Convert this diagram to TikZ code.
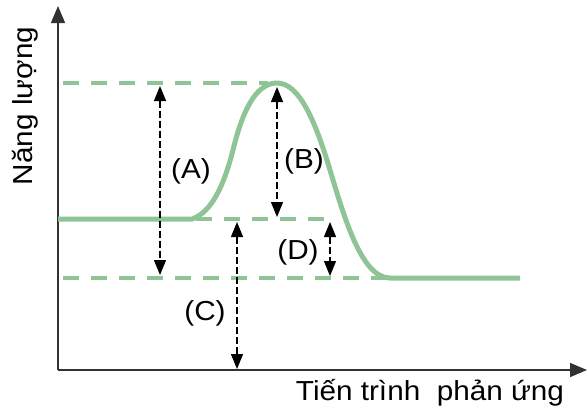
\documentclass[tikz,border=0pt]{standalone}
\usepackage{fontspec}
\setmainfont{Liberation Sans}[FakeStretch=1.08]
\usetikzlibrary{arrows.meta}
\definecolor{curvegreen}{RGB}{143,196,150}
\definecolor{axisgray}{RGB}{50,50,50}
\begin{document}
\begin{tikzpicture}[x=1pt,y=-1pt,
  axisline/.style={line width=1.5pt,draw=axisgray,-{Triangle[length=17pt,width=14pt]}},
  levelline/.style={draw=curvegreen,line width=4pt,dash pattern=on 16pt off 12pt},
  curveline/.style={draw=curvegreen,line width=5pt,line join=round},
  gaparrow/.style={line width=1.2pt,dash pattern=on 7pt off 3pt,{Triangle[length=15pt,width=12pt]}-{Triangle[length=15pt,width=12pt]}},
  lbl/.style={font=\fontsize{27.5}{31}\selectfont,inner sep=0pt}]
\useasboundingbox (0,0) rectangle (588,408);
% axes
\coordinate (O) at (58,370);
\coordinate (Ytop) at (58,6);
\coordinate (Xend) at (587,370);
\draw[axisline] (O) -- (Ytop);
\draw[axisline] (O) -- (Xend);
% level lines
\coordinate (t1) at (63,83);   \coordinate (t2) at (268,83);
\coordinate (m1) at (196,219); \coordinate (m2) at (334,219);
\coordinate (b1) at (63,278);  \coordinate (b2) at (388,278);
\draw[levelline] (t1) -- (t2);
\draw[levelline] (m1) -- (m2);
\draw[levelline] (b1) -- (b2);
% curve
\coordinate (c0) at (58,219);
\coordinate (c1) at (192,219);
\coordinate (c2) at (233,150);
\coordinate (peak) at (277,83);
\coordinate (c4) at (330,170);
\coordinate (c5) at (390,278);
\coordinate (c6) at (520,278);
\draw[curveline] (c0) -- (c1)
  .. controls (212,212) and (224,185) .. (c2)
  .. controls (242,113) and (255,83) .. (peak)
  .. controls (299,83) and (315,120) .. (c4)
  .. controls (345,220) and (362,278) .. (c5) -- (c6);
% gap arrows
\coordinate (a1) at (160,86);  \coordinate (a2) at (160,275);
\coordinate (bb1) at (277,87); \coordinate (bb2) at (277,217);
\coordinate (cc1) at (237,222); \coordinate (cc2) at (237,369);
\coordinate (d1) at (330,222); \coordinate (d2) at (330,276);
\draw[gaparrow] (a1) -- (a2);
\draw[gaparrow] (bb1) -- (bb2);
\draw[gaparrow] (cc1) -- (cc2);
\draw[gaparrow] (d1) -- (d2);
% labels
\node[lbl] (LA) at (191,171) {(A)};
\node[lbl] (LB) at (304,161) {(B)};
\node[lbl] (LC) at (205,313) {(C)};
\node[lbl] (LD) at (298,252) {(D)};
\node[lbl,anchor=base] (LX) at (430,400) {Tiến trình\ \ phản ứng};
\node[lbl,anchor=base,rotate=90] (LY) at (32,106) {Năng lượng};
\end{tikzpicture}
\end{document}
